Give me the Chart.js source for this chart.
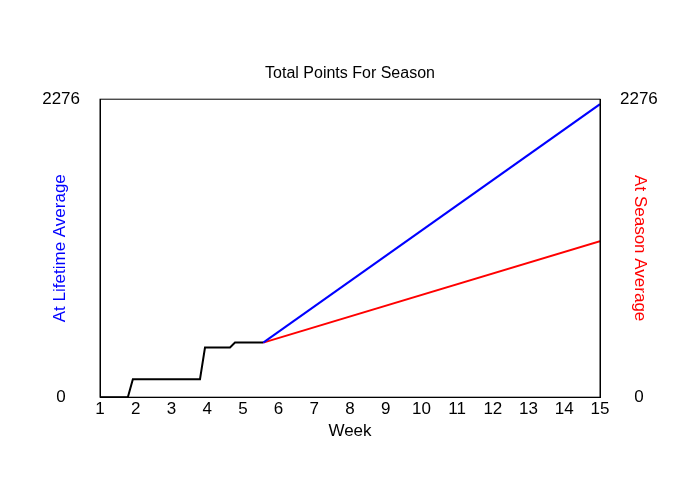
<!DOCTYPE html>
<html><head><style>html,body{margin:0;background:#fff}#w{width:700px;height:500px}</style>
<script src="https://cdn.jsdelivr.net/npm/chart.js@4"></script></head>
<body><div id="w"><canvas id="c"></canvas></div>
<script>
const weeksActual = [1, 1.78, 1.92, 3.8, 3.94, 4.64, 4.78, 5.57];
const pointsActual = [0, 0, 137, 137, 379, 379, 417, 417];
const weeksProj = [5.57, 15];
const lifetimeProj = [417, 2238];
const seasonProj = [417, 1191];
const yTicks = [0, 2276];
const F = "'Liberation Sans', Arial, sans-serif";
const xy = (xs, ys) => xs.map((x, i) => ({x, y: ys[i]}));
const box = {id:'box', afterDraw(c){const a=c.chartArea,g=c.ctx;g.save();g.strokeStyle='#000';g.lineWidth=1;g.strokeRect(a.left,a.top,a.right-a.left,a.bottom-a.top);g.restore();}};
const yt = {color:'#000', font:{family:F,size:17}, padding:20, crossAlign:'center', callback:v=>String(v)};
new Chart(document.getElementById('c'), {
  type: 'line',
  data: { datasets: [
    {data: xy(weeksProj, lifetimeProj), borderColor:'#0000ff', borderWidth:2, pointRadius:0, yAxisID:'y'},
    {data: xy(weeksProj, seasonProj), borderColor:'#ff0000', borderWidth:2, pointRadius:0, yAxisID:'y'},
    {data: xy(weeksActual, pointsActual), borderColor:'#000', borderWidth:2, pointRadius:0, yAxisID:'y'}
  ]},
  options: {
    responsive:true, maintainAspectRatio:false, animation:false,
    layout:{padding:{top:0,bottom:58}},
    plugins:{legend:{display:false}, tooltip:{enabled:false},
      title:{display:true, text:'Total Points For Season', color:'#000', font:{family:F,size:16,weight:'normal'}, padding:{top:64,bottom:16}}},
    scales:{
      x:{type:'linear', min:1, max:15, grid:{display:false, drawTicks:false}, border:{color:'#000'},
        ticks:{stepSize:1, color:'#000', font:{family:F,size:17}, padding:2},
        title:{display:true, text:'Week', color:'#000', font:{family:F,size:17}, padding:0}},
      y:{position:'left', min:0, max:2276, grid:{display:false, drawTicks:false}, border:{color:'#000'},
        afterBuildTicks(s){s.ticks=yTicks.map(v=>({value:v}));},
        ticks:yt,
        title:{display:true, text:'At Lifetime Average', color:'#0000ff', font:{family:F,size:17}, padding:{top:50,bottom:0}},
        afterFit(s){s.width=100;}},
      y2:{position:'right', min:0, max:2276, grid:{display:false, drawTicks:false}, border:{color:'#000'},
        afterBuildTicks(s){s.ticks=yTicks.map(v=>({value:v}));},
        ticks:yt,
        title:{display:true, text:'At Season Average', color:'#ff0000', font:{family:F,size:17}, padding:{top:50,bottom:0}},
        afterFit(s){s.width=100;}}
    }
  },
  plugins:[box]
});
</script></body></html>
